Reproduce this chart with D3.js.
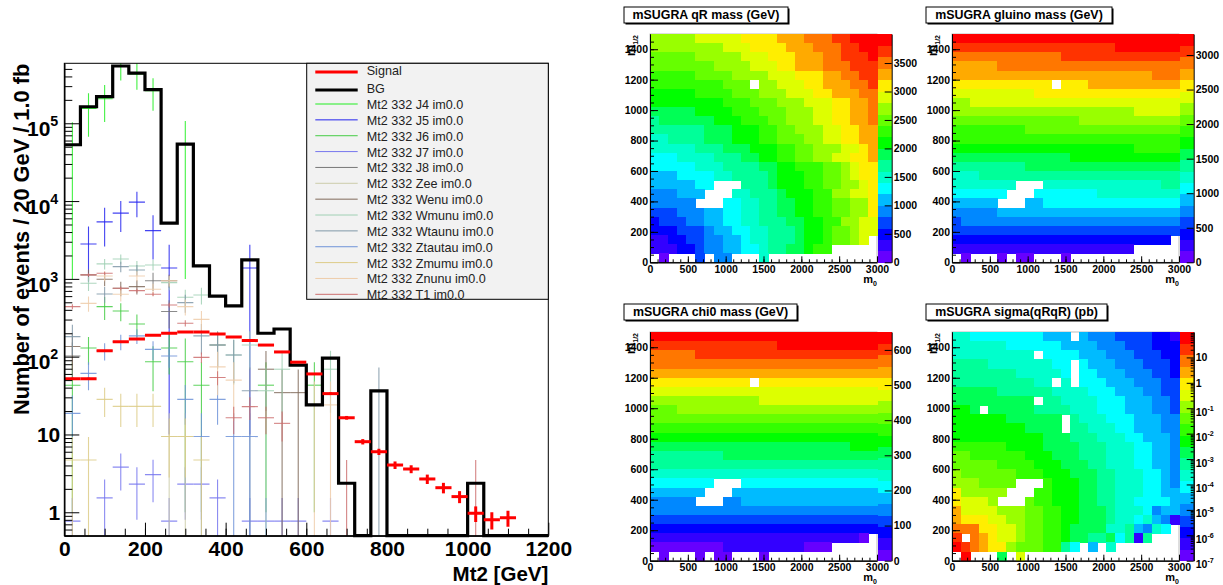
<!DOCTYPE html>
<html>
<head>
<meta charset="utf-8">
<script src="https://cdnjs.cloudflare.com/ajax/libs/d3/7.8.5/d3.min.js"></script>
<style>
  body { margin: 0; background: #fff; }
  svg { display: block; font-family: "Liberation Sans", Arial, sans-serif; }
</style>
</head>
<body>
<div id="chart"></div>
<script>
// ---- histogram data, one entry per 40 GeV bin ----
var _ = null;
var binWidth = 40;
var bgVals = [5.3e4,1.63e5,2.2e5,5.45e5,4.4e5,2.7e5,5200,5.4e4,1470,600,450,1750,200,227,78,24,96,2.36,0,36.4,0,0,0,0,0,2.36,0,0,0,0];
var sigVals = [52,52,119,156,169,188,200,208,208,196,179,161,141,115,85,60,33.5,16.4,8.08,6,4.05,3.6,2.68,2.07,1.59,0.97,0.8,0.85];
var sigErrs = [1.6,1.6,2.4,2.8,2.9,3,3.2,3.2,3.2,3.1,3,2.8,2.7,2.4,2,1.7,1.3,0.9,0.64,0.55,0.45,0.42,0.37,0.32,0.28,0.22,0.2,0.2];

var j4Vals = [5.2e4,1.55e5,2.07e5,5.4e5,4.3e5,2.62e5,_,5.4e4];
var j4Errs = [5.1e4,8.8e4,1.03e5,1.85e5,1.6e5,1.17e5,_,5.3e4];
var j5Vals = [_,2810,5400,7000,9700,4170,1380,_,_,_,_,1380];
var j5Errs = [_,1900,2800,3000,3500,2400,1370,_,_,_,_,1370];
var j6Vals = [43,129,440,386,263,86,129,86,43,_,_,_,43,_,_,43];
var j6Errs = [42,50,145,100,85,50,70,85,42,_,_,_,42,_,_,42];
var j7Vals = [0.77,_,1.53,3.8,2.3,3.05,0.77,2.3,2.3,1.53,_,0.77,0.77,0.77,0.77,_,0.77];
var j7Errs = [0.76,_,1.1,1.9,1.5,1.7,0.76,1.5,1.5,1.1,_,0.76,0.76,0.76,0.76,_,0.76];
var j8Vals = [102,_,_,_,_,948,380];
var j8Errs = [50,_,_,_,_,250,150];
var zeeVals = [_,_,_,_,_,_,9.4,9.4];
var zeeErrs = [_,_,_,_,_,_,9.3,9.3];
var wenuVals = [135,1125,990,757,795,_,948,_,_,141,_,_,69,34.5,34.5];
var wenuErrs = [68,197,185,160,165,_,180,_,_,68,_,_,49,34,34];
var wmunuVals = [_,877,1560,1800,1466,1510,894,580,620,141,105,141,36.5,69,_,_,69];
var wmunuErrs = [_,178,237,255,230,233,180,145,150,72,61,72,36,50,_,_,50];
var wtaunuVals = [181,_,640,1436,1300,_,_,495,185,141,105,36.5,_,_,_,_,_,_,_,36.4];
var wtaunuErrs = [77,_,145,218,207,_,_,128,78,68,59,36,_,_,_,_,_,_,_,36];
var ztautauVals = [18.7,61,119,156,185,124,102,28.3,9.4,28.3,9.4,9.4];
var ztautauErrs = [13,24,30,35,40,34,30,15,9.3,15,9.3,9.3];
var zmumuVals = [4.7,4.7,28.3,23,23,23,9.4,9.4,4.7];
var zmumuErrs = [4.6,4.6,11.5,10.5,10.5,10.5,6.6,6.6,4.6];
var znunuVals = [_,485,1090,635,1090,735,948,440,302,74,50,_,_,_,_,24,24];
var znunuErrs = [_,108,161,123,161,132,150,102,85,42,35,_,_,_,_,24,24];
var t1Vals = [440,1125,1180,757,706,635,461,269,98,54,16.4,22.8,16.4,13.9,_,_,_,2.36,_,_,_,_,_,_,_,2.36];
var t1Errs = [32,52,53,43,41,39,33,25,15,11,6.3,7.4,6.3,5.8,_,_,_,2.35,_,_,_,_,_,_,_,2.35];

var seriesNames = ["J4","J5","J6","J7","J8","Zee","Wenu","Wmunu","Wtaunu","Ztautau","Zmumu","Znunu","T1"];
var seriesColors = ["#22ee22","#2222ee","#44cc44","#7777ee","#777777","#ccccaa","#806a5a","#a0d0b4","#8098a8","#6f93d8","#ddcc88","#eeccaa","#cc6f6f"];
var seriesVals = [j4Vals,j5Vals,j6Vals,j7Vals,j8Vals,zeeVals,wenuVals,wmunuVals,wtaunuVals,ztautauVals,zmumuVals,znunuVals,t1Vals];
var seriesErrs = [j4Errs,j5Errs,j6Errs,j7Errs,j8Errs,zeeErrs,wenuErrs,wmunuErrs,wtaunuErrs,ztautauErrs,zmumuErrs,znunuErrs,t1Errs];

// ---- mSUGRA scans: palette band of each cell, written as (band, run length) pairs,
// top row first, 25 x 25 cells. band -1 = empty cell ----
var palette = ["#6600ff","#3300ff","#0000ff","#0044ff","#0088ff","#00bbff","#00ffff","#00ffcc","#00ff99","#00ff55","#00ff00","#33ff00","#66ff00","#99ff00","#ddff00","#ffee00","#ffaa00","#ff7700","#ff3300","#ff0000"];

var qrBands = [
  [13,5,14,5,15,4,16,3,17,3,18,2,19,3],
  [13,8,14,3,15,4,16,3,17,3,18,2,19,2],
  [12,5,13,5,14,3,15,3,16,3,17,2,18,3,19,1],
  [12,7,13,4,14,3,15,2,16,3,17,3,18,3],
  [11,5,12,4,13,4,14,3,15,3,16,2,17,2,18,2],
  [11,8,12,3,-1,1,13,2,14,3,15,2,16,3,17,2,18,1],
  [10,5,11,4,12,3,13,3,14,3,15,2,16,3,17,2],
  [10,8,11,3,12,3,13,3,14,3,15,2,16,2,17,1],
  [9,5,10,4,11,3,12,3,13,3,14,2,15,2,16,2,17,1],
  [8,1,9,6,10,3,11,3,12,2,13,3,14,2,15,2,16,2,17,1],
  [8,6,9,3,10,3,11,2,12,2,13,3,14,2,15,2,16,2],
  [7,2,8,4,9,3,10,3,11,2,12,3,13,2,14,2,15,2,16,2],
  [7,5,8,3,9,3,10,3,11,2,12,2,13,3,14,2,15,1,16,1],
  [6,3,7,4,8,3,9,2,10,2,11,2,12,2,13,2,14,2,15,2,16,1],
  [6,5,7,3,8,4,9,2,10,2,11,3,12,2,13,1,14,1,15,2],
  [5,3,6,4,7,2,8,4,9,1,10,3,11,2,12,2,13,1,14,1,15,2],
  [5,5,6,2,-1,3,8,3,9,1,10,3,11,2,12,2,13,2,14,1,15,1],
  [4,3,5,3,-1,3,7,2,8,3,9,1,10,3,11,2,13,2,14,2,15,1],
  [4,5,-1,3,6,2,7,2,8,2,9,2,10,2,11,2,12,2,13,2,15,1],
  [3,3,4,3,5,2,6,2,7,2,8,2,9,2,10,2,11,2,12,2,13,2,15,1],
  [2,1,3,3,4,2,5,2,6,2,7,2,8,3,9,2,10,2,11,2,13,2,14,2],
  [2,3,3,3,4,1,5,2,6,2,7,2,8,3,9,1,10,2,11,1,12,2,13,1,14,2],
  [1,2,2,2,3,2,4,2,5,2,6,1,7,2,8,3,9,1,10,2,11,1,12,2,13,1,14,1,-1,1],
  [1,3,2,2,3,1,4,2,5,2,6,2,7,1,8,2,9,2,10,1,11,2,-1,5],
  [-1,1,0,1,-1,3,3,1,-1,1,4,2,-1,3,7,1,-1,12]
];
var gluinoBands = [
  [19,25],
  [18,18,19,7],
  [17,12,18,13],
  [16,5,17,20],
  [16,22,17,3],
  [15,11,-1,1,15,3,16,10],
  [14,9,15,16],
  [13,2,14,23],
  [13,20,14,5],
  [12,14,13,11],
  [11,8,12,17],
  [11,25],
  [10,20,11,5],
  [9,13,10,12],
  [8,8,9,17],
  [7,3,8,22],
  [7,7,-1,3,7,13,8,2],
  [6,6,-1,3,6,7,7,9],
  [5,5,-1,3,5,2,6,15],
  [4,5,5,20],
  [3,1,4,24],
  [3,25],
  [2,24,-1,1],
  [1,20,-1,5],
  [-1,1,0,1,-1,3,0,1,-1,1,0,2,-1,3,0,1,-1,12]
];
var chi0Bands = [
  [19,25],
  [18,14,19,11],
  [17,5,18,20],
  [17,25],
  [16,25],
  [15,11,-1,1,15,13],
  [14,25],
  [13,12,14,13],
  [12,3,13,22],
  [12,25],
  [11,25],
  [10,25],
  [9,22,10,3],
  [8,8,9,17],
  [8,25],
  [7,25],
  [6,7,-1,3,6,15],
  [5,6,-1,3,5,16],
  [4,5,-1,3,4,2,5,15],
  [4,25],
  [3,25],
  [2,25],
  [1,23,0,1,-1,1],
  [0,8,1,9,0,3,-1,5],
  [-1,1,0,1,-1,3,0,1,-1,1,0,2,-1,3,0,1,-1,12]
];
var sigmaBands = [
  [7,2,6,8,5,3,-1,1,5,1,4,3,3,4,2,2,1,1],
  [7,6,6,6,5,4,4,3,3,3,2,3],
  [7,9,-1,1,6,4,5,3,4,3,3,3,2,2],
  [8,4,7,7,6,2,-1,1,6,1,5,3,4,3,3,3,2,1],
  [8,7,7,5,6,1,-1,1,6,2,5,3,4,3,3,2,2,1],
  [8,9,7,2,-1,1,7,1,-1,1,6,3,5,3,4,3,3,2],
  [9,5,8,6,7,4,6,3,5,3,4,2,3,2],
  [9,9,-1,1,8,2,7,4,6,3,5,3,4,2,3,1],
  [10,2,9,1,-1,1,9,5,8,4,7,3,6,3,5,3,4,2,3,1],
  [10,6,9,6,-1,1,8,1,7,3,6,3,5,3,4,2],
  [10,8,9,4,-1,1,8,2,7,3,6,2,5,3,4,2],
  [10,10,9,3,8,3,7,3,6,2,5,3,4,1],
  [11,6,10,4,9,4,8,3,7,3,6,2,5,2,4,1],
  [12,2,11,6,10,3,9,3,8,3,7,3,6,2,5,2,4,1],
  [12,5,11,4,10,3,9,3,8,2,7,3,6,2,5,2,4,1],
  [13,1,12,6,11,3,10,3,9,3,8,2,7,3,6,2,5,1,4,1],
  [13,3,12,4,-1,3,11,1,10,3,9,2,8,2,7,3,6,2,5,1,4,1],
  [15,1,13,5,-1,3,11,2,10,3,9,2,8,2,7,3,6,2,5,2],
  [15,1,14,3,13,1,-1,3,12,1,11,2,10,3,9,2,8,2,7,2,6,4,5,1],
  [16,1,14,4,13,3,12,2,11,2,10,2,9,3,8,1,7,3,6,1,4,1,5,2],
  [16,1,15,3,14,2,13,2,12,2,11,2,10,2,9,3,8,1,7,2,6,1,7,1,5,1,4,1,1,1],
  [17,3,15,2,14,2,13,1,12,2,11,2,10,1,9,4,7,2,8,1,5,1,4,1,7,1,6,1,-1,1],
  [18,1,-1,1,17,1,16,1,15,1,14,2,13,1,12,2,11,2,10,1,9,2,8,2,9,1,6,1,8,1,1,1,8,1,-1,3],
  [19,1,18,1,17,1,16,1,15,2,13,1,12,3,11,2,8,1,6,1,-1,1,5,1,-1,1,7,1,-1,7],
  [-1,1,19,1,-1,3,9,1,-1,1,14,1,-1,17]
];

var qrTicks = [0,500,1000,1500,2000,2500,3000,3500];
var gluinoTicks = [0,500,1000,1500,2000,2500,3000];
var chi0Ticks = [0,100,200,300,400,500,600];
var sigmaTicks = [1e-7,1e-6,1e-5,1e-4,1e-3,1e-2,1e-1,1,10];

// ---- page ----
var width = 1223, height = 585;
var svg = d3.select("#chart").append("svg").attr("width", width).attr("height", height);
var plainNumber = d3.format("d");

function styleAxis(g, size) {
  g.selectAll("path,line").attr("stroke", "#000").attr("stroke-width", 1);
  g.selectAll("text").attr("fill", "#000").attr("font-weight", "bold").attr("font-size", size);
}

// "10" with a small raised exponent
function powerLabel(text, exp, size, baseline) {
  text.text(null).attr("dy", null).attr("y", baseline);
  text.append("tspan").text("10");
  text.append("tspan").attr("font-size", size * 0.68).attr("dy", -size * 0.48).text(exp);
}

// ---- left histogram ----
var plot = { left: 64.3, right: 548.3, top: 63.3, bottom: 535.7 };
var x = d3.scaleLinear().domain([0, 1200]).range([plot.left, plot.right]);
var y = d3.scaleLog().domain([0.5, 5.9e5]).range([plot.bottom, plot.top]);

svg.append("clipPath").attr("id", "plotClip").append("rect")
   .attr("x", plot.left).attr("y", plot.top)
   .attr("width", plot.right - plot.left).attr("height", plot.bottom - plot.top);

var hist = svg.append("g").attr("clip-path", "url(#plotClip)");

function yClamped(v) {
  return y(Math.max(v, 0.4));
}

// crosses of one series: bin width across, error bar up and down
function drawCrosses(vals, errs, color, lineWidth, opacity) {
  var pts = vals.map(function(v, i) {
    return { bin: i, v: v, e: errs[i] };
  }).filter(function(d) { return d.v !== null; });
  var g = hist.append("g").attr("stroke", color).attr("stroke-width", lineWidth).attr("stroke-opacity", opacity);
  g.selectAll("line.h").data(pts).enter().append("line").attr("class", "h")
   .attr("x1", function(d) { return x(d.bin * binWidth); })
   .attr("x2", function(d) { return x((d.bin + 1) * binWidth); })
   .attr("y1", function(d) { return y(d.v); })
   .attr("y2", function(d) { return y(d.v); });
  g.selectAll("line.v").data(pts).enter().append("line").attr("class", "v")
   .attr("x1", function(d) { return x((d.bin + 0.5) * binWidth); })
   .attr("x2", function(d) { return x((d.bin + 0.5) * binWidth); })
   .attr("y1", function(d) { return y(d.v + d.e); })
   .attr("y2", function(d) { return yClamped(d.v - d.e); });
}

seriesNames.forEach(function(name, i) {
  drawCrosses(seriesVals[i], seriesErrs[i], seriesColors[i], 1.1, 0.85);
});

// BG outline
var edges = bgVals.concat([bgVals[bgVals.length - 1]]);
var bgLine = d3.line()
  .x(function(d, i) { return x(i * binWidth); })
  .y(function(d) { return yClamped(d) > plot.bottom ? plot.bottom : yClamped(d); })
  .curve(d3.curveStepAfter);
svg.append("path").attr("d", bgLine(edges)).attr("fill", "none").attr("stroke", "#000").attr("stroke-width", 3.2);

// signal goes back on top of the outline
var sigLayer = svg.append("g").attr("clip-path", "url(#plotClip)");
hist = sigLayer;
drawCrosses(sigVals, sigErrs, "#ff0000", 3, 1);

// frame
svg.append("rect").attr("x", plot.left).attr("y", plot.top)
   .attr("width", plot.right - plot.left).attr("height", plot.bottom - plot.top)
   .attr("fill", "none").attr("stroke", "#000");

// axes, ticks point inward like ROOT does
var xAxis = d3.axisBottom(x).tickValues([0,200,400,600,800,1000,1200]).tickFormat(plainNumber)
  .tickSizeInner(-13).tickSizeOuter(0).tickPadding(5);
svg.append("g").attr("transform", "translate(0," + plot.bottom + ")").call(xAxis).call(styleAxis, 21);
var xMinor = d3.axisBottom(x).tickValues(d3.range(50, 1200, 50)).tickSizeInner(-7).tickSizeOuter(0).tickFormat("");
svg.append("g").attr("transform", "translate(0," + plot.bottom + ")").call(xMinor).call(styleAxis, 21);

var yPowers = [1,10,100,1000,10000,100000];
var yAxis = d3.axisLeft(y).tickValues(yPowers).tickSizeInner(-15).tickSizeOuter(0).tickPadding(4);
var yg = svg.append("g").attr("transform", "translate(" + plot.left + ",0)").call(yAxis).call(styleAxis, 21);
yg.selectAll(".tick text").each(function(d) {
  var t = d3.select(this);
  if (d < 100) {
    t.text(d);
  } else {
    t.attr("x", -6);
    powerLabel(t, String(Math.round(Math.log10(d))), 21, 12.3);
  }
});
var yMinorVals = [0.5,0.6,0.7,0.8,0.9];
yPowers.forEach(function(p) {
  [2,3,4,5,6,7,8,9].forEach(function(m) {
    if (p * m <= 5.9e5) yMinorVals.push(p * m);
  });
});
var yMinor = d3.axisLeft(y).tickValues(yMinorVals).tickSizeInner(-8).tickSizeOuter(0).tickFormat("");
svg.append("g").attr("transform", "translate(" + plot.left + ",0)").call(yMinor).call(styleAxis, 21);

svg.append("text").attr("transform", "translate(29,415) rotate(-90)")
   .attr("font-size", 21.8).attr("font-weight", "bold").text("Number of events / 20 GeV / 1.0 fb");
svg.append("text").attr("x", plot.right).attr("y", 581).attr("text-anchor", "end")
   .attr("font-size", 20.5).attr("font-weight", "bold").text("Mt2 [GeV]");

// legend
var legendNames = ["Signal","BG"].concat(seriesNames.map(function(n) { return "Mt2 332 " + n + " im0.0"; }));
var legendColors = ["#ff0000","#000000"].concat(seriesColors);
var legendTop = 63.3, legendBottom = 299.3, legendLeft = 306.7;
function legendY(i) {
  return i < 2 ? 71 + 18 * i : 105 + 15.86 * (i - 2);
}
svg.append("rect").attr("x", legendLeft).attr("y", legendTop)
   .attr("width", plot.right - legendLeft).attr("height", legendBottom - legendTop)
   .attr("fill", "#f2f2f2").attr("stroke", "#000");
var legend = svg.append("g").selectAll("g").data(legendNames).enter().append("g");
legend.append("line")
   .attr("x1", 315.3).attr("x2", 357.7)
   .attr("y1", function(d, i) { return legendY(i) + (i < 2 ? 1 : -1); })
   .attr("y2", function(d, i) { return legendY(i) + (i < 2 ? 1 : -1); })
   .attr("stroke", function(d, i) { return legendColors[i]; })
   .attr("stroke-width", function(d, i) { return i < 2 ? 3 : 1; });
legend.append("text")
   .attr("x", 366.7)
   .attr("y", function(d, i) { return legendY(i) + 4; })
   .attr("font-size", 12.6).attr("fill", "#222")
   .text(function(d) { return d; });

// ---- heat maps ----
function drawMap(o) {
  var w = o.w, h = o.h;
  var mx = d3.scaleLinear().domain([0, 3000]).range([o.x, o.x + w]);
  var my = d3.scaleLinear().domain([0, 1500]).range([o.y + h, o.y]);
  var colBand = d3.scaleBand().domain(d3.range(25)).range([o.x, o.x + w]);
  var rowBand = d3.scaleBand().domain(d3.range(25)).range([o.y, o.y + h]);
  var color = d3.scaleOrdinal().domain(d3.range(20)).range(palette);

  var cells = [];
  o.bands.forEach(function(runs, r) {
    var c = 0;
    for (var k = 0; k < runs.length; k += 2) {
      for (var n = 0; n < runs[k + 1]; n++) {
        if (runs[k] >= 0) cells.push({ r: r, c: c, band: runs[k] });
        c++;
      }
    }
  });

  var g = svg.append("g");
  g.append("rect").attr("x", o.x).attr("y", o.y).attr("width", w).attr("height", h)
   .attr("fill", "#fff").attr("stroke", "#aaa").attr("stroke-width", 0.8);
  g.selectAll("rect.cell").data(cells).enter().append("rect").attr("class", "cell")
   .attr("x", function(d) { return colBand(d.c); })
   .attr("y", function(d) { return rowBand(d.r); })
   .attr("width", colBand.bandwidth() + 0.6)
   .attr("height", rowBand.bandwidth() + 0.6)
   .attr("shape-rendering", "crispEdges")
   .attr("fill", function(d) { return color(d.band); });

  // colour bar
  var barX = o.x + w + 1, barW = 13.7;
  var barBand = d3.scaleBand().domain(d3.range(20)).range([o.y + h, o.y]);
  g.selectAll("rect.bar").data(d3.range(20)).enter().append("rect").attr("class", "bar")
   .attr("x", barX).attr("width", barW)
   .attr("y", function(d) { return barBand(d); })
   .attr("height", barBand.bandwidth() + 0.6)
   .attr("shape-rendering", "crispEdges")
   .attr("fill", function(d) { return color(d); });
  var barRange = [o.y + h, o.y];
  var barScale = o.log
    ? d3.scaleLog().domain([1e-7, 1e2]).range(barRange)
    : d3.scaleLinear().domain([0, o.zmax]).range(barRange);
  var barAxis = d3.axisRight(barScale).tickValues(o.ticks).tickSizeInner(-7).tickSizeOuter(0).tickPadding(2);
  var bg = g.append("g").attr("transform", "translate(" + (barX + barW) + ",0)").call(barAxis).call(styleAxis, 10.5);
  if (o.log) {
    bg.selectAll(".tick text").each(function(d) {
      var t = d3.select(this);
      if (d === 1 || d === 10) { t.text(d); return; }
      powerLabel(t, String(Math.round(Math.log10(d))), 10.5, 7);
    });
    var logMinor = [];
    [1e-7,1e-6,1e-5,1e-4,1e-3,1e-2,1e-1,1,10].forEach(function(p) {
      [2,3,4,5,6,7,8,9].forEach(function(m) { logMinor.push(p * m); });
    });
    var minorBar = d3.axisRight(barScale).tickValues(logMinor).tickSizeInner(-3).tickSizeOuter(0).tickFormat("");
    g.append("g").attr("transform", "translate(" + (barX + barW) + ",0)").call(minorBar).call(styleAxis, 10.5);
  } else {
    bg.selectAll(".tick text").text(function(d) { return d; });
  }

  // x and y axes, drawn over the cells
  var ax = d3.axisBottom(mx).tickValues([0,500,1000,1500,2000,2500,3000]).tickFormat(plainNumber)
    .tickSizeInner(-6).tickSizeOuter(0).tickPadding(3);
  g.append("g").attr("transform", "translate(0," + (o.y + h) + ")").call(ax).call(styleAxis, 10.5);
  var axMinor = d3.axisBottom(mx).tickValues(d3.range(100, 3000, 100)).tickSizeInner(-3).tickSizeOuter(0).tickFormat("");
  g.append("g").attr("transform", "translate(0," + (o.y + h) + ")").call(axMinor).call(styleAxis, 10.5);
  var ay = d3.axisLeft(my).tickValues([0,200,400,600,800,1000,1200,1400]).tickFormat(plainNumber)
    .tickSizeInner(-8).tickSizeOuter(0).tickPadding(2);
  g.append("g").attr("transform", "translate(" + o.x + ",0)").call(ay).call(styleAxis, 10.5);
  var ayMinor = d3.axisLeft(my).tickValues(d3.range(50, 1500, 50)).tickSizeInner(-4).tickSizeOuter(0).tickFormat("");
  g.append("g").attr("transform", "translate(" + o.x + ",0)").call(ayMinor).call(styleAxis, 10.5);

  // axis titles
  var mTitle = g.append("text").attr("x", o.x + w).attr("y", o.y + h + 20.7).attr("text-anchor", "end")
   .attr("font-size", 11).attr("font-weight", "bold");
  mTitle.append("tspan").text("m");
  mTitle.append("tspan").attr("font-size", 7).attr("dy", 2.5).text("0");
  var yTitle = g.append("text").attr("transform", "translate(" + (o.x - 15) + "," + (o.y + 1) + ") rotate(-90)")
   .attr("text-anchor", "end").attr("font-size", 13).attr("font-weight", "bold");
  yTitle.append("tspan").text("m");
  yTitle.append("tspan").attr("font-size", 7).attr("dy", 2.5).text("1/2");

  // title box with ROOT's drop shadow
  var tx = o.x + o.boxDx, ty = o.y + o.boxDy;
  g.append("rect").attr("x", tx + 1.5).attr("y", ty + 1.5).attr("width", o.boxW).attr("height", 16).attr("fill", "#000");
  g.append("rect").attr("x", tx).attr("y", ty).attr("width", o.boxW).attr("height", 16)
   .attr("fill", "#fff").attr("stroke", "#000");
  g.append("text").attr("x", tx + o.boxW / 2).attr("y", ty + 12.3).attr("text-anchor", "middle")
   .attr("font-size", 12.4).attr("font-weight", "bold").text(o.title);
}

drawMap({ title: "mSUGRA qR mass (GeV)", bands: qrBands, x: 650, y: 34, w: 227, h: 228.3,
          zmax: 4010, ticks: qrTicks, boxDx: -26, boxDy: -27, boxW: 164 });
drawMap({ title: "mSUGRA gluino mass (GeV)", bands: gluinoBands, x: 952, y: 34, w: 227, h: 228.3,
          zmax: 3304, ticks: gluinoTicks, boxDx: -26, boxDy: -27, boxW: 186 });
drawMap({ title: "mSUGRA chi0 mass (GeV)", bands: chi0Bands, x: 650, y: 332, w: 227, h: 228.7,
          zmax: 651, ticks: chi0Ticks, boxDx: -26, boxDy: -28, boxW: 173 });
drawMap({ title: "mSUGRA sigma(qRqR) (pb)", bands: sigmaBands, x: 952, y: 332, w: 227, h: 228.7,
          log: true, ticks: sigmaTicks, boxDx: -26, boxDy: -28, boxW: 181 });
</script>
</body>
</html>
